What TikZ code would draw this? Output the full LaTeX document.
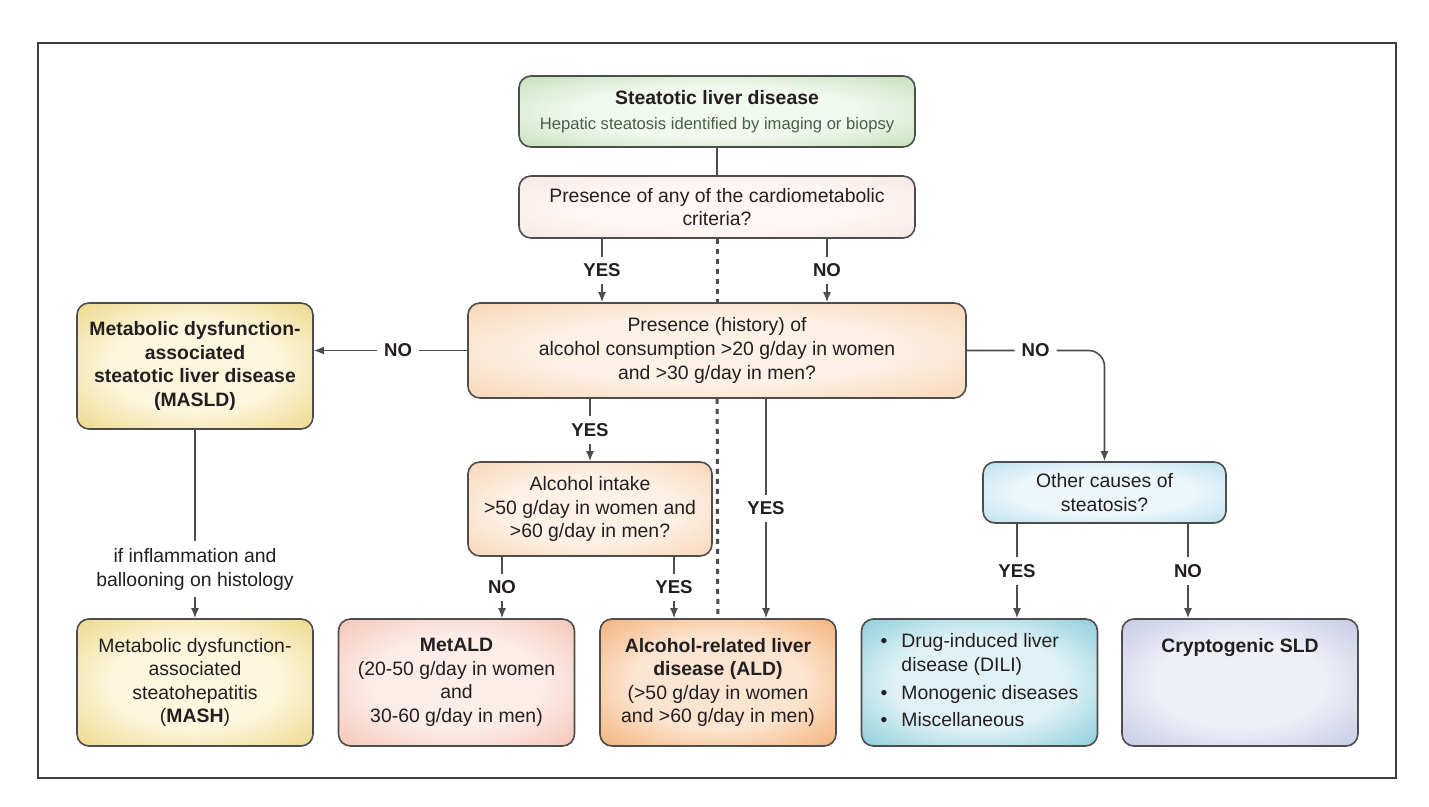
\documentclass[tikz,border=0pt]{standalone}
\usepackage{fontspec}
\setmainfont{Liberation Sans}
\usetikzlibrary{arrows.meta}

\definecolor{inkdark}{HTML}{231F20}
\definecolor{linegray}{HTML}{4D4D4D}
\definecolor{subgreen}{HTML}{46604A}
\definecolor{greenin}{HTML}{F1F8EE}   \definecolor{greenout}{HTML}{A8D49A}
\definecolor{critin}{HTML}{FDF6F4}    \definecolor{critout}{HTML}{F3E0DA}
\definecolor{peachin}{HTML}{FDF0E4}   \definecolor{peachout}{HTML}{F5C79C}
\definecolor{yellowin}{HTML}{FCF6DC}  \definecolor{yellowout}{HTML}{E6C75C}
\definecolor{salmonin}{HTML}{FCEDE8}  \definecolor{salmonout}{HTML}{F0AE98}
\definecolor{orangein}{HTML}{FCE5D0}  \definecolor{orangeout}{HTML}{EE9449}
\definecolor{cyanin}{HTML}{E0F2F6}    \definecolor{cyanout}{HTML}{5BB8CA}
\definecolor{skyin}{HTML}{EDF7FB}     \definecolor{skyout}{HTML}{9ED2E8}
\definecolor{lilacin}{HTML}{EEEFF7}   \definecolor{lilacout}{HTML}{ADB3DA}
\colorlet{glowin}{white}
\colorlet{glowout}{white}
\pgfdeclareradialshading[glowin,glowout]{softglow}{\pgfpointorigin}{color(0bp)=(glowin); color(18bp)=(glowin); color(46bp)=(glowout); color(50bp)=(glowout)}

\begin{document}
\begin{tikzpicture}[x=0.5pt,y=-0.5pt,>={Latex[length=5pt,width=4pt]},
    box/.style={draw=linegray,line width=0.8pt,rounded corners=6pt,align=center,text=inkdark,
        minimum width=118pt,minimum height=63.5pt,inner sep=2pt,
        font=\fontsize{9.7}{11.8}\selectfont,shade,shading=softglow},
    tint/.style={/utils/exec={\colorlet{glowin}{#1in}\colorlet{glowout}{#1out}}},
    wire/.style={draw=linegray,line width=0.8pt},
    dotline/.style={line width=1.5pt,dash pattern=on 2.5pt off 2.5pt},
    lbl/.style={fill=white,inner sep=3.5pt,text=inkdark,font=\fontsize{9.3}{11.8}\selectfont\bfseries},
    note/.style={lbl,align=center,font=\fontsize{9.7}{11.8}\selectfont}]
    \fill[white] (0,0) rectangle (1429,807);
    \draw[line width=0.8pt,color=linegray!80!black] (38,43) rectangle (1396,778);
    % top of the chart
    \node[box,tint=green,minimum width=198pt,minimum height=35.5pt] (sld) at (717,111.5)
        {\textbf{Steatotic liver disease}\\[0.4pt]{\fontsize{8.3}{10}\selectfont\color{subgreen}Hepatic steatosis identified by imaging or biopsy}};
    \node[box,tint=crit,minimum width=198pt,minimum height=31pt] (crit) at (717,207)
        {Presence of any of the cardiometabolic\\criteria?};
    \node[box,tint=peach,minimum width=249pt,minimum height=47.5pt] (alc) at (717,350.5)
        {Presence (history) of\\alcohol consumption >20 g/day in women\\and >30 g/day in men?};
    \node[box,tint=yellow,minimum height=63pt,font=\fontsize{9.7}{11.8}\selectfont\bfseries] (masld) at (195,366)
        {Metabolic dysfunction-\\associated\\steatotic liver disease\\(MASLD)};
    \node[box,tint=peach,minimum width=122pt,minimum height=47pt] (intake) at (590,509)
        {Alcohol intake\\>50 g/day in women and\\>60 g/day in men?};
    \node[box,tint=sky,minimum width=121.5pt,minimum height=30.5pt] (other) at (1104.5,492.5)
        {Other causes of\\steatosis?};
    % bottom row
    \node[box,tint=yellow] (mash) at (195,682.5)
        {Metabolic dysfunction-\\associated\\steatohepatitis\\(\textbf{MASH})};
    \node[box,tint=salmon] (metald) at (456.5,682.5)
        {\textbf{MetALD}\\(20-50 g/day in women\\and\\30-60 g/day in men)};
    \node[box,tint=orange] (ald) at (718,682.5)
        {\textbf{Alcohol-related liver}\\\textbf{disease (ALD)}\\(>50 g/day in women\\and >60 g/day in men)};
    \node[box,tint=cyan] (dili) at (979.5,682.5)
        {\begin{tabular}{@{}l@{\hspace{7pt}}l@{}}
        \textbullet & Drug-induced liver\\
                    & disease (DILI)\\[2pt]
        \textbullet & Monogenic diseases\\[2pt]
        \textbullet & Miscellaneous
        \end{tabular}};
    \node[box,tint=lilac,inner ysep=0pt,text height=16.5pt,text depth=47pt] (crypto) at (1240,682.5)
        {\textbf{Cryptogenic SLD}};
    % connectors
    \draw[wire] (sld) -- (crit);
    \draw[wire,->] ([xshift=-57.5pt]crit.south) -- node[lbl]{YES} ([xshift=-57.5pt]crit.south |- alc.north);
    \draw[wire,->] ([xshift=55pt]crit.south) -- node[lbl]{NO} ([xshift=55pt]crit.south |- alc.north);
    \draw[wire,dotline] (crit) -- (alc);
    \draw[wire,dotline] (alc) -- (ald);
    \draw[wire,->] (alc.west) -- node[lbl,pos=0.45]{NO} (alc.west -| masld.east);
    \draw[wire,->,rounded corners=8pt] (alc.east) -- node[lbl]{NO} (alc.east -| other.north) -- (other.north);
    \draw[wire,->] (alc.south -| intake.north) -- node[lbl]{YES} (intake.north);
    \draw[wire,->] ([xshift=24pt]ald.north |- alc.south) -- node[lbl]{YES} ([xshift=24pt]ald.north);
    \draw[wire,->] ([xshift=-44pt]intake.south) -- node[lbl]{NO} ([xshift=-44pt]intake.south |- metald.north);
    \draw[wire,->] ([xshift=42pt]intake.south) -- node[lbl]{YES} ([xshift=42pt]intake.south |- ald.north);
    \draw[wire,->] (masld) -- node[note,pos=0.74]{if inflammation and\\ballooning on histology} (mash);
    \draw[wire,->] ([xshift=-43.75pt]other.south) -- node[lbl]{YES} ([xshift=-43.75pt]other.south |- dili.north);
    \draw[wire,->] ([xshift=41.75pt]other.south) -- node[lbl]{NO} ([xshift=41.75pt]other.south |- crypto.north);
\end{tikzpicture}
\end{document}
